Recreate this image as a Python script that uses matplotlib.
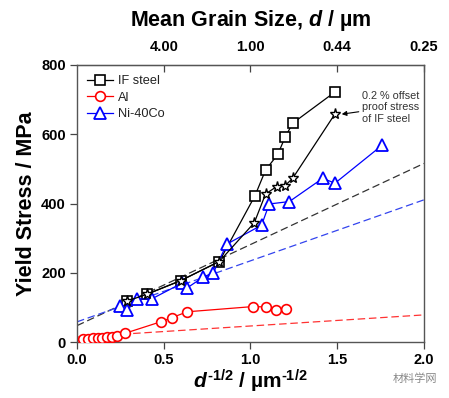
import matplotlib
matplotlib.use("Agg")
import matplotlib.pyplot as plt

plt.rcParams['font.family'] = ['Liberation Sans', 'DejaVu Sans']
plt.rcParams['mathtext.fontset'] = 'custom'
plt.rcParams['mathtext.rm'] = 'Liberation Sans:bold'
plt.rcParams['mathtext.it'] = 'Liberation Sans:bold:italic'
plt.rcParams['mathtext.bf'] = 'Liberation Sans:bold'

# data (x = d^-1/2 in um^-1/2, y = MPa)
if_x = [0.29, 0.405, 0.598, 0.82, 1.026, 1.087, 1.157, 1.199, 1.243, 1.489]
if_y = [119, 139, 178, 233, 423, 497, 542, 591, 632, 723]

proof_x = [0.29, 0.405, 0.598, 0.82, 1.022, 1.087, 1.15, 1.199, 1.243, 1.487]
proof_y = [119, 139, 178, 233, 345, 428, 449, 452, 473, 659]

al_x = [0.036, 0.065, 0.094, 0.119, 0.146, 0.175, 0.2, 0.229, 0.277,
        0.482, 0.546, 0.636, 1.014, 1.087, 1.145, 1.205]
al_y = [9, 10, 11, 12, 13, 14, 16, 19, 26, 59, 71, 88, 103, 102, 93, 95]

ni_x = [0.248, 0.29, 0.348, 0.43, 0.603, 0.632, 0.728, 0.786, 0.863,
        1.064, 1.108, 1.224, 1.416, 1.487, 1.76]
ni_y = [105, 93, 125, 125, 170, 156, 188, 201, 283, 338, 399, 406, 473, 459, 569]

# Hall-Petch fit lines (end points)
fit_x = [0.0, 2.0]
if_fit_y = [48, 516]
ni_fit_y = [59, 411]
al_fit_y = [15, 79]

top_ticks = [0.5, 1.0, 1.5, 2.0]
top_labels = ['4.00', '1.00', '0.44', '0.25']

fig = plt.figure(figsize=(4.49, 3.98), dpi=100)
ax = fig.add_axes([0.1715, 0.140, 0.7728, 0.6967])

ax.plot(fit_x, if_fit_y, '--', color='#333333', lw=0.9, dashes=(6, 3), zorder=1)
ax.plot(fit_x, ni_fit_y, '--', color='#3344ee', lw=0.9, dashes=(6, 3), zorder=1)
ax.plot(fit_x, al_fit_y, '--', color='#ff3333', lw=0.9, dashes=(6, 3), zorder=1)

ax.plot(if_x, if_y, '-s', color='black', lw=0.9, ms=6.5, mfc='white',
        mew=1.2, label='IF steel', zorder=3)
ax.plot(proof_x, proof_y, '-*', color='black', lw=0.9, ms=8, mfc='white',
        mew=1.0, zorder=4)
ax.plot(al_x, al_y, '-o', color='red', lw=0.9, ms=7, mfc='white',
        mew=1.2, label='Al', zorder=3)
ax.plot(ni_x, ni_y, '-^', color='blue', lw=0.9, ms=8, mfc='white',
        mew=1.3, label='Ni-40Co', zorder=3)

ax.set_xlim(0, 2.0)
ax.set_ylim(0, 800)
ax.set_xticks([0.0, 0.5, 1.0, 1.5, 2.0])
ax.set_xticklabels(['0.0', '0.5', '1.0', '1.5', '2.0'])
ax.set_yticks([0, 200, 400, 600, 800])
ax.tick_params(axis='both', direction='out', length=5, width=0.9,
               labelsize=10.5, color='#444444', pad=3)
for lab in ax.get_xticklabels() + ax.get_yticklabels():
    lab.set_fontweight('bold')
for sp in ax.spines.values():
    sp.set_color('#555555')
    sp.set_linewidth(1.0)

ax.set_ylabel('Yield Stress / MPa', fontsize=15.5, fontweight='bold', labelpad=3)
ax.set_xlabel('$\\mathit{d}^{\u20101/2}$ / µm$^{\u20101/2}$', fontsize=15,
              fontweight='bold', labelpad=0)

top = ax.secondary_xaxis('top')
top.set_xticks(top_ticks)
top.set_xticklabels(top_labels)
top.tick_params(direction='in', length=5, width=0.9, labelsize=10.5,
                color='#444444', pad=8)
for lab in top.get_xticklabels():
    lab.set_fontweight('bold')
top.set_xlabel(r'Mean Grain Size, $\mathit{d}$ / µm', fontsize=15.5,
               fontweight='bold', labelpad=10)

ax.legend(loc='upper left', frameon=False, fontsize=9.2, handlelength=2.0,
          handletextpad=0.4, labelspacing=0.35, borderaxespad=0.4,
          labelcolor='#222222')

ax.annotate('0.2 % offset\nproof stress\nof IF steel', xy=(1.51, 657),
            xytext=(1.64, 678), fontsize=7.8, color='#333333',
            va='center', ha='left', linespacing=1.2,
            arrowprops=dict(arrowstyle='-|>', color='black', lw=0.8,
                            mutation_scale=7, shrinkA=0, shrinkB=2))

fig.text(0.875, 0.04, '材料学网', fontsize=8, color='#888888',
         family=['Noto Sans CJK SC', 'DejaVu Sans'])

fig.savefig('out.png', dpi=100)
